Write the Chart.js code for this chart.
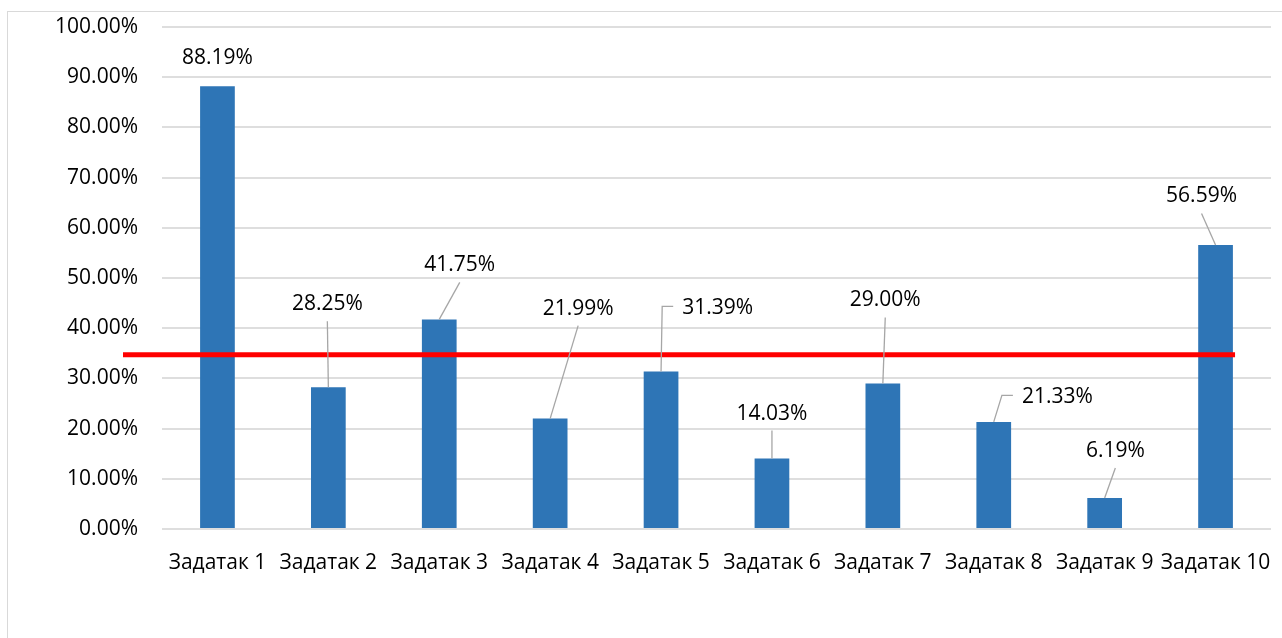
<!DOCTYPE html>
<html>
<head>
<meta charset="utf-8">
<script src="https://cdn.jsdelivr.net/npm/chart.js@4.4.1/dist/chart.umd.min.js"></script>
<style>
  html, body { margin: 0; padding: 0; background: #ffffff; }
  #wrap { position: relative; width: 1282px; height: 638px; }
</style>
</head>
<body>
<div id="wrap"><canvas id="c" width="1282" height="638"></canvas></div>
<script>
// ---- data ----
const categories = ['Задатак 1', 'Задатак 2', 'Задатак 3', 'Задатак 4', 'Задатак 5',
                    'Задатак 6', 'Задатак 7', 'Задатак 8', 'Задатак 9', 'Задатак 10'];
const percentValues = [88.19, 28.25, 41.75, 21.99, 31.39, 14.03, 29.00, 21.33, 6.19, 56.59];
const yTickValues = [0, 10, 20, 30, 40, 50, 60, 70, 80, 90, 100];
const thresholdValue = 34.7;

// label placement offsets (px, relative to bar top centre) – styling, not data
const labelDx = [0, -1, 20.5, 28, 56.6, 0, 2.4, 63.6, 10.7, -14];
const labelDy = [-29, -84, -55, -111, -64, -46, -84, -25.5, -48, -49.5];

const FONT = '"Open Sans", "Liberation Sans", sans-serif';
const FONT_SIZE = 21;

const framePlugin = {
  id: 'frame',
  beforeDraw(chart) {
    const ctx = chart.ctx;
    ctx.save();
    ctx.fillStyle = '#ffffff';
    ctx.fillRect(0, 0, chart.width, chart.height);
    ctx.strokeStyle = '#d9d9d9';
    ctx.lineWidth = 1;
    ctx.strokeRect(7.5, 11.5, chart.width + 20, chart.height + 20);
    ctx.restore();
  }
};

const thresholdPlugin = {
  id: 'threshold',
  afterDatasetsDraw(chart) {
    const ctx = chart.ctx;
    const y = chart.scales.y.getPixelForValue(thresholdValue);
    const xs = chart.scales.x;
    const x0 = chart.chartArea.left - 39;
    const x1 = xs.getPixelForValue(categories.length - 1) + 19.5;
    ctx.save();
    ctx.strokeStyle = '#ff0000';
    ctx.lineWidth = 5;
    ctx.beginPath();
    ctx.moveTo(x0, y);
    ctx.lineTo(x1, y);
    ctx.stroke();
    ctx.restore();
  }
};

const labelPlugin = {
  id: 'barLabels',
  afterDraw(chart) {
    const ctx = chart.ctx;
    const meta = chart.getDatasetMeta(0);
    ctx.save();
    ctx.font = FONT_SIZE + 'px ' + FONT;
    meta.data.forEach((bar, i) => {
      const v = percentValues[i];
      const text = v.toFixed(2) + '%';
      const bx = bar.x, by = bar.y;
      const tx = bx + labelDx[i], ty = by + labelDy[i];
      const w = ctx.measureText(text).width;
      const left = tx - w / 2, right = tx + w / 2;
      const dist = Math.hypot(labelDx[i], labelDy[i]);
      if (dist > 35) {
        ctx.strokeStyle = '#a6a6a6';
        ctx.lineWidth = 1.3;
        ctx.beginPath();
        if (bx < left) {
          ctx.moveTo(bx, by);
          ctx.lineTo(left - 20, ty - 1);
          ctx.lineTo(left - 9, ty - 1);
        } else if (bx > right) {
          ctx.moveTo(bx, by);
          ctx.lineTo(right + 20, ty - 1);
          ctx.lineTo(right + 9, ty - 1);
        } else {
          ctx.moveTo(bx, by);
          ctx.lineTo(tx, ty + 18);
        }
        ctx.stroke();
      }
      ctx.fillStyle = '#000000';
      ctx.textAlign = 'center';
      ctx.textBaseline = 'middle';
      ctx.fillText(text, tx, ty + 1);
    });
    ctx.restore();
  }
};

new Chart(document.getElementById('c'), {
  type: 'bar',
  data: {
    labels: categories,
    datasets: [{
      data: percentValues,
      backgroundColor: '#2e75b6',
      borderWidth: 0,
      barPercentage: 0.313,
      categoryPercentage: 1.0
    }]
  },
  options: {
    responsive: false,
    animation: false,
    devicePixelRatio: 1,
    layout: { padding: { left: 0, top: 27, right: 11, bottom: 0 } },
    plugins: { legend: { display: false }, tooltip: { enabled: false } },
    scales: {
      x: {
        grid: { display: false, drawTicks: false },
        border: { display: false },
        ticks: { color: '#000', font: { family: FONT, size: FONT_SIZE }, padding: 21, maxRotation: 0, autoSkip: false },
        afterFit(s) { s.height = 109; s.paddingLeft = 0; s.paddingRight = 0; }
      },
      y: {
        min: 0, max: 100,
        afterBuildTicks(s) { s.ticks = yTickValues.map(v => ({ value: v })); },
        grid: { color: '#dedede', lineWidth: 2, drawTicks: false },
        border: { display: false },
        ticks: {
          color: '#000', font: { family: FONT, size: FONT_SIZE }, padding: 24,
          callback: v => Number(v).toFixed(2) + '%'
        },
        afterFit(s) { s.width = 162; s.paddingTop = 0; s.paddingBottom = 0; }
      }
    }
  },
  plugins: [framePlugin, thresholdPlugin, labelPlugin]
});
</script>
</body>
</html>
